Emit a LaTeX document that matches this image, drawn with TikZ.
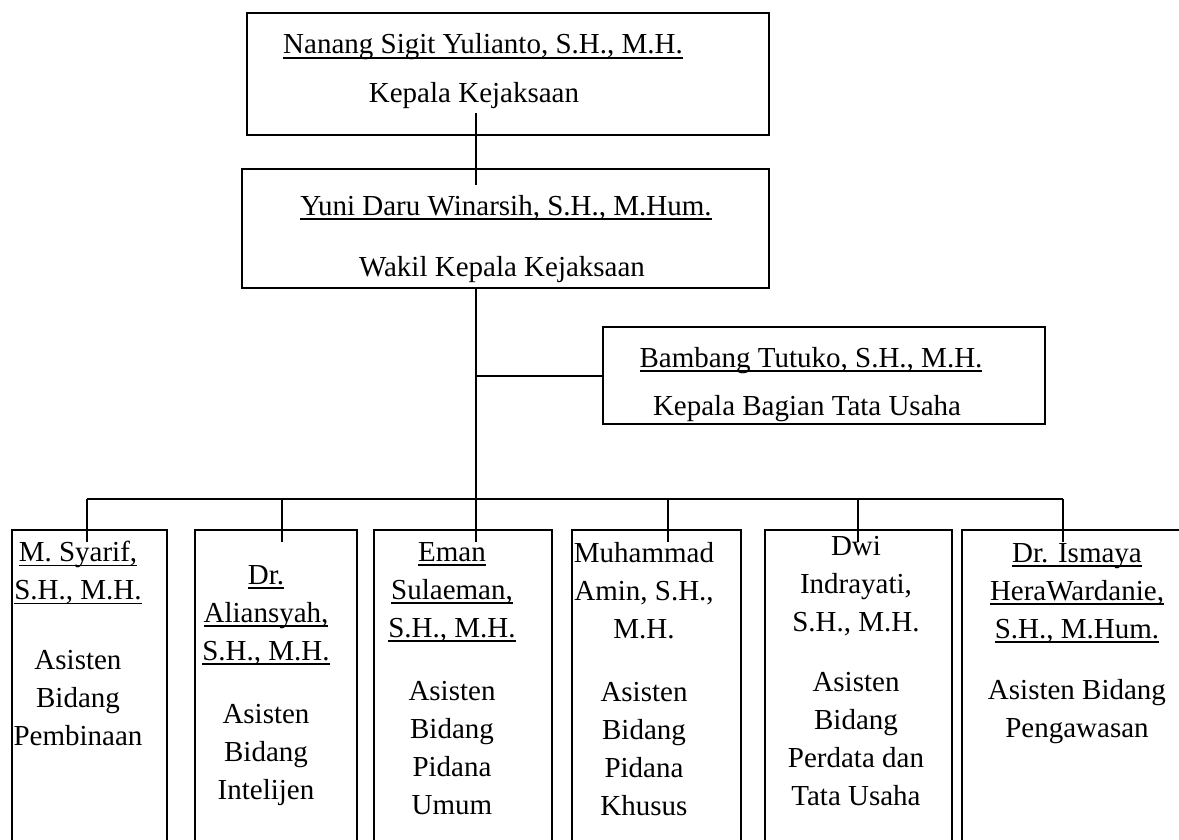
\documentclass[tikz,border=0pt]{standalone}
\usepackage{fontspec}
\setmainfont{Liberation Serif}
\newcommand\ulname[1]{\leavevmode\setbox0\hbox{#1}\rlap{\rule[-2.3pt]{\wd0}{0.8pt}}\box0}

\begin{document}
\begin{tikzpicture}[x=0.5pt, y=-0.5pt, unit/.style={draw, rectangle, line width=1.3pt, inner sep=0pt}, txt/.style={inner sep=0pt, align=center, font=\fontsize{14.5}{19}\selectfont}, l/.style={line width=1pt}]
    \useasboundingbox (0,0) rectangle (1179,840);
    \clip (0,0) rectangle (1179,840);
    % nodes
    \node[unit, minimum width=261pt, minimum height=61pt] (kepala) at (508,74) {};
    \node[txt, anchor=base] (kepalaN) at (483,54) {\ulname{Nanang Sigit Yulianto, S.H., M.H.}};
    \node[txt, anchor=base] (kepalaJ) at (474,103) {Kepala Kejaksaan};

    \node[unit, minimum width=263.5pt, minimum height=59.5pt] (wakil) at (505.5,228.5) {};
    \node[txt, anchor=base] (wakilN) at (506,215) {\ulname{Yuni Daru Winarsih, S.H., M.Hum.}};
    \node[txt, anchor=base] (wakilJ) at (502,277) {Wakil Kepala Kejaksaan};

    \node[unit, minimum width=221pt, minimum height=48.5pt] (tu) at (824,375.5) {};
    \node[txt, anchor=base] (tuN) at (811,367) {\ulname{Bambang Tutuko, S.H., M.H.}};
    \node[txt, anchor=base] (tuJ) at (807,415) {Kepala Bagian Tata Usaha};

    \node[unit, minimum width=77.5pt, minimum height=170pt] (as1) at (89.5,700) {};
    \node[txt, anchor=north] (as1T) at (78,541) {\ulname{M. Syarif,}\\\ulname{S.H., M.H.}\\[16pt]Asisten\\Bidang\\Pembinaan};

    \node[unit, minimum width=81pt, minimum height=170pt] (as2) at (276,700) {};
    \node[txt, anchor=north] (as2T) at (266,565) {\ulname{Dr.}\\\ulname{Aliansyah,}\\\ulname{S.H., M.H.}\\[12.5pt]Asisten\\Bidang\\Intelijen};

    \node[unit, minimum width=89pt, minimum height=170pt] (as3) at (463,700) {};
    \node[txt, anchor=north] (as3T) at (452,542) {\ulname{Eman}\\\ulname{Sulaeman,}\\\ulname{S.H., M.H.}\\[12.5pt]Asisten\\Bidang\\Pidana\\Umum};

    \node[unit, minimum width=84.5pt, minimum height=170pt] (as4) at (656.5,700) {};
    \node[txt, anchor=north] (as4T) at (644,542) {Muhammad\\Amin, S.H.,\\M.H.\\[12.5pt]Asisten\\Bidang\\Pidana\\Khusus};

    \node[unit, minimum width=93.5pt, minimum height=170pt] (as5) at (858.5,700) {};
    \node[txt, anchor=north] (as5T) at (856,536) {Dwi\\Indrayati,\\S.H., M.H.\\[11pt]Asisten\\Bidang\\Perdata dan\\Tata Usaha};

    \node[unit, minimum width=116.5pt, minimum height=170pt] (as6) at (1078.5,700) {};
    \node[txt, anchor=north] (as6T) at (1077,543) {\ulname{Dr. Ismaya}\\\ulname{HeraWardanie,}\\\ulname{S.H., M.Hum.}\\[11.5pt]Asisten Bidang\\Pengawasan};

    \coordinate (k1) at (476,113);
    \coordinate (k2) at (476,185);
    \coordinate (bus) at (476,499);
    \coordinate (d1) at (87,542);
    \coordinate (d2) at (282,542);
    \coordinate (d3) at (476,542);
    \coordinate (d4) at (668,542);
    \coordinate (d5) at (858,542);
    \coordinate (d6) at (1063,542);
    % edges
    \draw [l] (k1) -- (k2);
    \draw [l] (wakil.south -| bus) -- (d3);
    \draw [l] (bus |- tu.west) -- (tu.west);
    \draw [l] (d1 |- bus) -- (d6 |- bus);
    \draw [l] (d1 |- bus) -- (d1);
    \draw [l] (d2 |- bus) -- (d2);
    \draw [l] (d4 |- bus) -- (d4);
    \draw [l] (d5 |- bus) -- (d5);
    \draw [l] (d6 |- bus) -- (d6);
\end{tikzpicture}
\end{document}
